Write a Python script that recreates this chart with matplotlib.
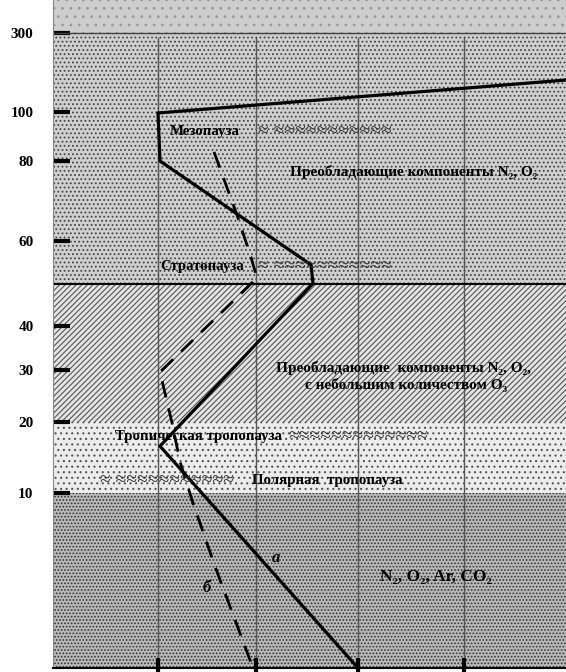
import numpy as np
import matplotlib.pyplot as plt

plt.rcParams['font.family'] = ['Liberation Serif', 'DejaVu Serif']
plt.rcParams['hatch.linewidth'] = 0.8

# высота (км) -> положение по вертикали: шкала на рисунке неравномерная
scale_km = [0, 10, 20, 30, 40, 60, 80, 100, 300, 384]
scale_pos = [0, 175, 246, 298, 342, 427, 507, 556, 635, 668]

ticks_km = [10, 20, 30, 40, 60, 80, 100, 300]
grid_x = [158, 256, 358, 464]

# слои атмосферы (км)
layer_bottom = [0, 10, 20, 50, 300]
layer_top = [10, 20, 50, 300, 384]
layer_face = ['#b9b9b9', '#ececec', '#e4e4e4', '#cfcfcf', '#cdcdcd']
layer_hatch = ['.....', '...', '//////', '....', '..']
layer_edge = ['#333333', '#555555', '#555555', '#444444', '#9a9a9a']

# кривая а (сплошная)
a_x = [566, 158, 160, 311, 313, 160, 358]
a_km = [181, 99.6, 80, 54.4, 50, 16.6, 0]

# кривая б (пунктир)
b_x = [214, 237, 251, 257, 160, 172, 180, 192, 215, 253]
b_km = [83.7, 66.5, 56.2, 51.3, 29.6, 19.9, 14.4, 9.6, 5.8, 0]

fig = plt.figure(figsize=(5.66, 6.72), dpi=100)
ax = fig.add_axes([53 / 566, 4 / 672, 513 / 566, 668 / 672])
ax.set_yscale('function', functions=(lambda y: np.interp(y, scale_km, scale_pos),
                                     lambda p: np.interp(p, scale_pos, scale_km)))
ax.set_xlim(53, 566)
ax.set_ylim(0, 384)

for lo, hi, fc, h, ec in zip(layer_bottom, layer_top, layer_face, layer_hatch, layer_edge):
    ax.axhspan(lo, hi, facecolor=fc, hatch=h, edgecolor=ec, linewidth=0, zorder=0)

for gx in grid_x:
    ax.axvline(gx, ymax=np.interp(300, scale_km, scale_pos) / 668 - 0.008,
               color='#555555', lw=1, zorder=1)

ax.axhline(50, color='black', lw=1.5, zorder=2)
ax.axhline(300, color='#444444', lw=1, zorder=2)

ax.plot(a_x, a_km, color='black', lw=2.3, solid_joinstyle='miter', zorder=4)
ax.plot(b_x, b_km, color='black', lw=2, linestyle=(0, (6, 4)), zorder=4)

bold = dict(fontsize=10.7, fontweight='bold', color='black', zorder=5)
big = dict(fontsize=11, fontweight='bold', color='black', zorder=5)
wv = dict(fontsize=14, color='#333333', ha='left', va='center', zorder=5)
waves = '≈ ≈≈≈≈≈≈≈≈≈≈≈'

ax.text(170, 92.2, 'Мезопауза', ha='left', va='center', **bold)
ax.text(258, 92.2, waves, **wv)
ax.text(290, 77.3, 'Преобладающие компоненты N₂, O₂', ha='left', va='center', **big)
ax.text(160, 53.9, 'Стратопауза', ha='left', va='center', **bold)
ax.text(258, 53.9, waves, **wv)
ax.text(403, 30.4, 'Преобладающие  компоненты N₂, O₂,', ha='center', va='center', **big)
ax.text(406, 27.1, 'с небольшим количеством O₃', ha='center', va='center', **big)
ax.text(115, 17.9, 'Тропическая тропопауза', ha='left', va='center', **bold)
ax.text(288, 17.9, '≈≈≈≈≈≈≈≈≈≈≈≈≈', **wv)
ax.text(100, 11.8, waves, **wv)
ax.text(252, 11.8, 'Полярная  тропопауза', ha='left', va='center', **bold)
ax.text(276, 6.3, 'а', ha='center', va='center', fontsize=12, fontweight='bold',
        fontstyle='italic', zorder=5)
ax.text(207, 4.6, 'б', ha='center', va='center', fontsize=12, fontweight='bold',
        fontstyle='italic', zorder=5)
ax.text(436, 5.2, 'N₂, O₂, Ar, CO₂', ha='center', va='center', fontsize=12.5,
        fontweight='bold', zorder=5)

ax.set_yticks(ticks_km)
ax.set_yticklabels([str(t) for t in ticks_km], fontsize=11, fontweight='bold')
ax.yaxis.set_minor_locator(plt.NullLocator())
ax.tick_params(axis='y', direction='in', length=12, width=3, pad=14, color='black')
ax.set_xticks(grid_x)
ax.set_xticklabels([])
ax.tick_params(axis='x', direction='inout', length=14, width=3, color='black')

ax.spines['top'].set_visible(False)
ax.spines['right'].set_visible(False)
ax.spines['left'].set_color('#888888')
ax.spines['left'].set_linewidth(0.8)
ax.spines['bottom'].set_color('black')
ax.spines['bottom'].set_linewidth(1.5)

fig.savefig('out.png', dpi=100)
